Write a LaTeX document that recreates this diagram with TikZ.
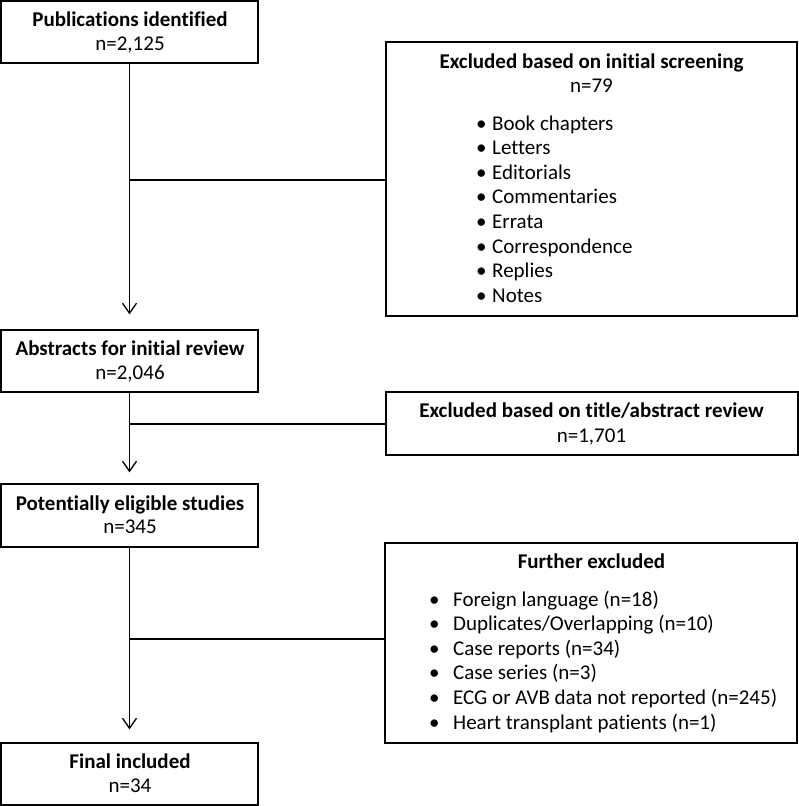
\documentclass[tikz,border=0pt]{standalone}
\usepackage{fontspec}
\setmainfont{Carlito}[Ligatures=NoCommon]
\usetikzlibrary{arrows.meta}
\newcommand{\bul}[1]{\makebox[#1][l]{•}}
\begin{document}
\begin{tikzpicture}[x=1pt,y=-1pt,
  box/.style={draw, line width=1.3pt, inner sep=0pt, fill=white},
  txt/.style={font=\fontsize{21}{24.6}\selectfont, inner sep=0pt, align=center},
  lst/.style={font=\fontsize{21}{24.6}\selectfont, inner sep=0pt, anchor=base west},
  conn/.style={line width=1.3pt},
  arr/.style={line width=1.3pt, -{Straight Barb[length=10pt,width=14pt,line width=1.3pt]}}]
\useasboundingbox (0,0) rectangle (799,806);
% left column boxes
\node[box, minimum width=257pt, minimum height=62pt] (b1) at (129.5,32) {};
\node[box, minimum width=257pt, minimum height=62pt] (b2) at (129.5,361) {};
\node[box, minimum width=257pt, minimum height=63pt] (b3) at (129.5,515.5) {};
\node[box, minimum width=257pt, minimum height=62pt] (b4) at (129.5,774) {};
% right column boxes
\node[box, minimum width=411pt, minimum height=274pt] (e1) at (591.5,179) {};
\node[box, minimum width=412pt, minimum height=63pt] (e2) at (592,423.5) {};
\node[box, minimum width=412pt, minimum height=200pt] (e3) at (591,643) {};
% texts
\node[txt, anchor=base] (t1a) at (130,26) {\textbf{Publications identified}};
\node[txt, anchor=base] (t1b) at (130,50) {n=2,125};
\node[txt, anchor=base] (t2a) at (130,355) {\textbf{Abstracts for initial review}};
\node[txt, anchor=base] (t2b) at (130,379) {n=2,046};
\node[txt, anchor=base] (t3a) at (130,510) {\textbf{Potentially eligible studies}};
\node[txt, anchor=base] (t3b) at (130,533) {n=345};
\node[txt, anchor=base] (t4a) at (130,768) {\textbf{Final included}};
\node[txt, anchor=base] (t4b) at (130,792) {n=34};
\node[txt, anchor=base] (s1a) at (591.5,68) {\textbf{Excluded based on initial screening}};
\node[txt, anchor=base] (s1b) at (591.5,92) {n=79};
\node[lst] (l1) at (476,130) {\begin{tabular}[t]{@{}l@{}}
\bul{16pt}Book chapters\\
\bul{16pt}Letters\\
\bul{16pt}Editorials\\
\bul{16pt}Commentaries\\
\bul{16pt}Errata\\
\bul{16pt}Correspondence\\
\bul{16pt}Replies\\
\bul{16pt}Notes\end{tabular}};
\node[txt, anchor=base] (s2a) at (591.5,417) {\textbf{Excluded based on title/abstract review}};
\node[txt, anchor=base] (s2b) at (591.5,442) {n=1,701};
\node[txt, anchor=base] (s3a) at (591.5,568) {\textbf{Further excluded}};
\node[lst] (l3) at (429,606) {\begin{tabular}[t]{@{}l@{}}
\bul{24pt}Foreign language (n=18)\\
\bul{24pt}Duplicates/Overlapping (n=10)\\
\bul{24pt}Case reports (n=34)\\
\bul{24pt}Case series (n=3)\\
\bul{24pt}ECG or AVB data not reported (n=245)\\
\bul{24pt}Heart transplant patients (n=1)\end{tabular}};
% connectors
\coordinate (j1) at (130,180);
\coordinate (j2) at (130,424);
\coordinate (j3) at (130,639);
\draw[arr] (b1.south) -- ([yshift=15pt]b2.north);
\draw[conn] (j1) -- (j1 -| e1.west);
\draw[arr] (b2.south) -- ([yshift=11pt]b3.north);
\draw[conn] (j2) -- (j2 -| e2.west);
\draw[arr] (b3.south) -- ([yshift=13pt]b4.north);
\draw[conn] (j3) -- (j3 -| e3.west);
\end{tikzpicture}
\end{document}
